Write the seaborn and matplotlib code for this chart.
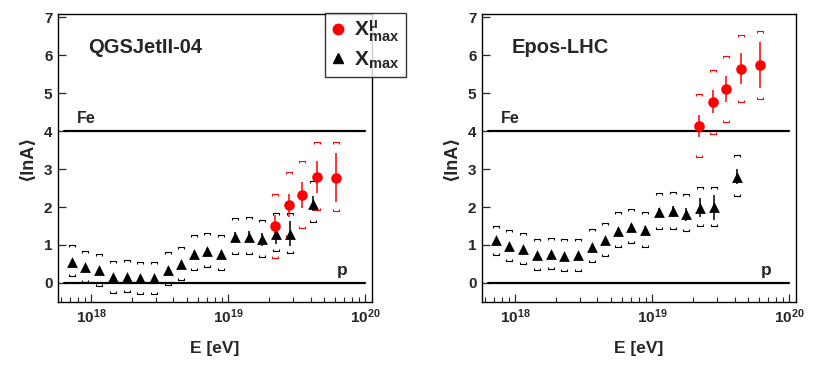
import matplotlib
matplotlib.use('Agg')  # Use non-GUI backend

import matplotlib.pyplot as plt
from matplotlib.path import Path
from matplotlib.lines import Line2D
from matplotlib.ticker import LogLocator, FixedLocator, NullLocator
import seaborn as sns
import numpy as np
import pandas as pd

# energy bins (log10 E/eV)
lgE_xmax = [17.86, 17.96, 18.06, 18.16, 18.26, 18.36, 18.46, 18.56, 18.66,
            18.75, 18.85, 18.95, 19.05, 19.15, 19.25, 19.35, 19.45, 19.62]
lgE_mu = [19.345, 19.445, 19.54, 19.65, 19.785]

# statistical errors of lnA from Xmax (similar for both models)
xmax_stat = [0.05, 0.05, 0.05, 0.05, 0.05, 0.05, 0.06, 0.06, 0.07,
             0.08, 0.09, 0.10, 0.12, 0.14, 0.17, 0.25, 0.32, 0.20]

# QGSJetII-04
qgs_xmax = [0.55, 0.41, 0.33, 0.15, 0.17, 0.12, 0.12, 0.35, 0.50,
            0.77, 0.83, 0.75, 1.21, 1.22, 1.15, 1.28, 1.30, 2.09]
qgs_xmax_sys_hi = [0.99, 0.84, 0.75, 0.57, 0.60, 0.55, 0.55, 0.81, 0.95,
                   1.25, 1.32, 1.26, 1.72, 1.74, 1.67, 1.85, 1.85, 2.68]
qgs_xmax_sys_lo = [0.18, 0.02, -0.07, -0.26, -0.25, -0.29, -0.28, -0.06, 0.09,
                   0.33, 0.41, 0.33, 0.76, 0.77, 0.69, 0.84, 0.80, 1.60]
qgs_mu = [1.50, 2.05, 2.32, 2.79, 2.77]
qgs_mu_stat = [0.28, 0.30, 0.35, 0.42, 0.65]
qgs_mu_sys_hi = [2.35, 2.92, 3.21, 3.70, 3.71]
qgs_mu_sys_lo = [0.66, 1.21, 1.45, 1.91, 1.89]

# Epos-LHC
epos_xmax = [1.12, 0.98, 0.90, 0.73, 0.75, 0.71, 0.73, 0.96, 1.12,
             1.38, 1.47, 1.40, 1.86, 1.89, 1.81, 1.98, 1.99, 2.80]
epos_xmax_sys_hi = [1.51, 1.40, 1.31, 1.16, 1.18, 1.15, 1.16, 1.42, 1.57,
                    1.86, 1.94, 1.88, 2.36, 2.40, 2.34, 2.52, 2.52, 3.36]
epos_xmax_sys_lo = [0.73, 0.59, 0.51, 0.33, 0.37, 0.32, 0.32, 0.55, 0.70,
                    0.96, 1.05, 0.96, 1.43, 1.43, 1.36, 1.51, 1.51, 2.29]
epos_mu = [4.14, 4.77, 5.10, 5.64, 5.73]
epos_mu_stat = [0.29, 0.30, 0.34, 0.41, 0.61]
epos_mu_sys_hi = [4.97, 5.60, 5.97, 6.52, 6.62]
epos_mu_sys_lo = [3.31, 3.91, 4.24, 4.77, 4.84]

sns.set_style('white')
plt.rcParams['font.family'] = ['Liberation Sans', 'DejaVu Sans']
plt.rcParams['font.weight'] = 'bold'
plt.rcParams['mathtext.fontset'] = 'custom'
plt.rcParams['mathtext.rm'] = 'Liberation Sans:bold'
plt.rcParams['mathtext.it'] = 'Liberation Sans:bold'
plt.rcParams['mathtext.bf'] = 'Liberation Sans:bold'

RED = '#ff0000'
up_bracket = Path([(-1, -0.7), (-1, 0), (1, 0), (1, -0.7)],
                  [Path.MOVETO, Path.LINETO, Path.LINETO, Path.LINETO])
lo_bracket = Path([(-1, 0.7), (-1, 0), (1, 0), (1, 0.7)],
                  [Path.MOVETO, Path.LINETO, Path.LINETO, Path.LINETO])


def draw_panel(ax, name, xmax, xsys_hi, xsys_lo, mu, mu_stat, msys_hi, msys_lo):
    ax.set_xscale('log')
    E_x = 10 ** np.array(lgE_xmax)
    E_m = 10 ** np.array(lgE_mu)
    df_x = pd.DataFrame({'E': E_x, 'lnA': xmax})
    df_m = pd.DataFrame({'E': E_m, 'lnA': mu})

    # Fe and p reference lines
    ax.plot([10 ** 17.8, 1e20], [4, 4], color='black', lw=1.6, zorder=1)
    ax.plot([10 ** 17.8, 1e20], [0, 0], color='black', lw=1.6, zorder=1)

    # systematic brackets
    for E, hi, lo, c in [(E_x, xsys_hi, xsys_lo, 'black'), (E_m, msys_hi, msys_lo, RED)]:
        ax.plot(E, hi, ls='none', marker=up_bracket, ms=4.5, mfc='none',
                mec=c, mew=0.8, zorder=2)
        ax.plot(E, lo, ls='none', marker=lo_bracket, ms=4.5, mfc='none',
                mec=c, mew=0.8, zorder=2)

    # statistical errors
    ax.errorbar(E_x, xmax, yerr=xmax_stat, fmt='none', ecolor='black',
                elinewidth=1.1, capsize=0, zorder=3)
    ax.errorbar(E_m, mu, yerr=mu_stat, fmt='none', ecolor=RED,
                elinewidth=1.1, capsize=0, zorder=3)

    sns.scatterplot(data=df_x, x='E', y='lnA', marker='^', color='black',
                    s=60, linewidth=0, ax=ax, zorder=4)
    sns.scatterplot(data=df_m, x='E', y='lnA', marker='o', color=RED,
                    s=58, linewidth=0, ax=ax, zorder=4)

    ax.set_xlim(10 ** 17.76, 10 ** 20.05)
    ax.set_ylim(-0.5, 7.08)
    ax.xaxis.set_major_locator(FixedLocator([1e18, 1e19, 1e20]))
    ax.xaxis.set_minor_locator(LogLocator(base=10, subs=np.arange(2, 10), numticks=20))
    ax.yaxis.set_major_locator(FixedLocator(range(0, 8)))
    ax.yaxis.set_minor_locator(NullLocator())
    ax.tick_params(axis='both', which='major', direction='in', length=6,
                   width=0.9, labelsize=11, pad=4, top=False, right=False,
                   bottom=True, left=True)
    ax.tick_params(axis='x', which='minor', direction='in', length=3.5,
                   width=0.8, top=False, bottom=True)
    for lab in ax.get_yticklabels():
        lab.set_fontweight('bold')
    for s in ax.spines.values():
        s.set_linewidth(1.0)
        s.set_color('black')

    ax.set_xlabel('E [eV]', fontsize=12.5, fontweight='bold', labelpad=11)
    ax.set_ylabel('⟨lnA⟩', fontsize=13, fontweight='bold', labelpad=6)
    ax.text(0.095, 0.882, name, transform=ax.transAxes, fontsize=14.5,
            fontweight='bold', va='center', ha='left')
    ax.text(0.06, 4.12, 'Fe', fontsize=11.5, fontweight='bold',
            transform=ax.get_yaxis_transform(), va='bottom', ha='left')
    ax.text(0.888, 0.12, 'p', fontsize=12.5, fontweight='bold',
            transform=ax.get_yaxis_transform(), va='bottom', ha='left')


fig = plt.figure(figsize=(8.22, 3.72), dpi=100)
ax1 = fig.add_axes([0.0706, 0.1882, 0.382, 0.7742])
ax2 = fig.add_axes([0.5864, 0.1882, 0.382, 0.7742])

draw_panel(ax1, 'QGSJetII-04', qgs_xmax, qgs_xmax_sys_hi, qgs_xmax_sys_lo,
           qgs_mu, qgs_mu_stat, qgs_mu_sys_hi, qgs_mu_sys_lo)
draw_panel(ax2, 'Epos-LHC', epos_xmax, epos_xmax_sys_hi, epos_xmax_sys_lo,
           epos_mu, epos_mu_stat, epos_mu_sys_hi, epos_mu_sys_lo)

handles = [Line2D([], [], ls='none', marker='o', color=RED, ms=7.5),
           Line2D([], [], ls='none', marker='^', color='black', ms=7)]
labels = [r'$\mathrm{X}^{\mathrm{μ}}_{\mathrm{max}}$', r'$\mathrm{X}_{\mathrm{max}}$']
leg = fig.legend(handles, labels, loc='upper left',
                 bbox_to_anchor=(325 / 822, 1 - 12.7 / 372), fontsize=15,
                 frameon=True, fancybox=False, edgecolor='black',
                 handlelength=0.6, handletextpad=0.5, borderpad=0.3,
                 labelspacing=0.25, borderaxespad=0)
leg.get_frame().set_linewidth(1.0)

fig.savefig('out.png', dpi=100)
